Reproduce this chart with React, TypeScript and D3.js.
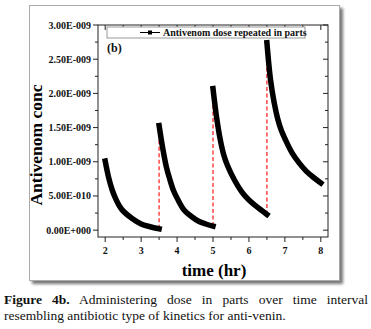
import React, { useLayoutEffect, useRef } from "react";
import * as d3 from "d3";

// ---- data (concentration in units of 1e-9) ----
const seg1T = [2.0, 2.1, 2.2, 2.3, 2.4, 2.5, 2.75, 3.0, 3.25, 3.5];
const seg1V = [1.01, 0.76, 0.58, 0.45, 0.35, 0.28, 0.17, 0.09, 0.05, 0.02];
const seg2T = [3.5, 3.6, 3.7, 3.8, 3.9, 4.0, 4.2, 4.4, 4.6, 4.8, 5.0];
const seg2V = [1.53, 1.2, 0.93, 0.74, 0.58, 0.47, 0.29, 0.2, 0.13, 0.09, 0.06];
const seg3T = [5.0, 5.1, 5.2, 5.3, 5.4, 5.6, 5.8, 6.0, 6.2, 6.5];
const seg3V = [2.07, 1.65, 1.33, 1.1, 0.95, 0.73, 0.56, 0.44, 0.35, 0.23];
const seg4T = [6.5, 6.6, 6.7, 6.8, 6.9, 7.0, 7.2, 7.4, 7.6, 7.8, 8.0];
const seg4V = [2.74, 2.2, 1.87, 1.63, 1.46, 1.34, 1.13, 0.98, 0.86, 0.77, 0.69];

const yTickValues = [0, 0.5, 1.0, 1.5, 2.0, 2.5, 3.0];
const yTickLabels = ["0.00E+000", "5.00E-010", "1.00E-009", "1.50E-009", "2.00E-009", "2.50E-009", "3.00E-009"];
const xTickValues = [2, 3, 4, 5, 6, 7, 8];
const legendLabel = "Antivenom dose repeated in parts";
const xTitle = "time (hr)";
const yTitle = "Antivenom conc";
const panelLabel = "(b)";
const captionBold = "Figure 4b.";
const captionRest1 = " Administering dose in parts over time interval";
const captionLine2 = "resembling antibiotic type of kinetics for anti-venin.";

const W = 371, H = 329;
const plot = { left: 98, right: 328, top: 25, bottom: 237 };
const serif = '"Liberation Serif", "Times New Roman", "DejaVu Serif", serif';

export default function App() {
  const line1Ref = useRef<SVGTextElement>(null);

  useLayoutEffect(() => {
    const el = line1Ref.current;
    if (!el) return;
    el.setAttribute("word-spacing", "0");
    const len = el.getComputedTextLength();
    const target = 364;
    const spaces = (captionBold + captionRest1).split(" ").length - 1;
    const extra = (target - len) / spaces;
    el.setAttribute("word-spacing", String(extra));
  }, []);

  const x = d3.scaleLinear().domain([1.8, 8.2]).range([plot.left, plot.right]);
  const y = d3.scaleLinear().domain([-0.1, 3.0]).range([plot.bottom, plot.top]);

  const segs = [
    [seg1T, seg1V],
    [seg2T, seg2V],
    [seg3T, seg3V],
    [seg4T, seg4V],
  ].map(([t, v]) => t.map((tt, i) => [tt, v[i]] as [number, number]));

  const line = d3
    .line<[number, number]>()
    .x((d) => x(d[0]))
    .y((d) => y(d[1]))
    .curve(d3.curveCatmullRom.alpha(0.5));

  const jumps = segs.slice(0, -1).map((s, i) => [s[s.length - 1], segs[i + 1][0]]);

  const yMinor = d3.range(0, 3.0001, 0.25);
  const xMinor = d3.range(2, 8.0001, 0.5);

  const axisColor = "#222";
  const ff = { fontFamily: serif };

  return (
    <svg width={W} height={H} style={{ position: "absolute", left: 0, top: 0, background: "#fff", fontFamily: serif }}>
      <defs>
        <filter id="shadow" x="-10%" y="-10%" width="120%" height="120%">
          <feGaussianBlur stdDeviation="1.5" />
        </filter>
      </defs>
      {/* frame with shadow */}
      <rect x={32} y={8} width={311} height={276} fill="#777" filter="url(#shadow)" />
      <rect x={29.5} y={5.5} width={310} height={275} fill="#fff" stroke="#aaa" strokeWidth={1} />

      {/* red dashed connectors */}
      {jumps.map((j, i) => (
        <line key={i} x1={x(j[0][0])} y1={y(j[0][1])} x2={x(j[1][0])} y2={y(j[1][1])}
          stroke="#ff2a2a" strokeWidth={1.3} strokeDasharray="4,2.5" />
      ))}

      {/* black curves */}
      {segs.map((s, i) => (
        <path key={i} d={line(s) || ""} fill="none" stroke="#000" strokeWidth={5.5}
          strokeLinecap="square" strokeLinejoin="round" />
      ))}

      {/* plot box */}
      <rect x={plot.left} y={plot.top} width={plot.right - plot.left} height={plot.bottom - plot.top}
        fill="none" stroke={axisColor} strokeWidth={1} />

      {/* y ticks */}
      {yMinor.map((v, i) => {
        const major = Math.abs(v * 2 - Math.round(v * 2)) < 1e-6;
        const len = major ? 5 : 3;
        return (
          <g key={"y" + i}>
            <line x1={plot.left - len} x2={plot.left} y1={y(v)} y2={y(v)} stroke={axisColor} />
            <line x1={plot.right - len} x2={plot.right} y1={y(v)} y2={y(v)} stroke={axisColor} />
          </g>
        );
      })}
      {yTickValues.map((v, i) => (
        <text key={"yl" + i} x={plot.left - 7} y={y(v)} dy="0.35em" textAnchor="end" style={ff}
          fontSize={10} fontWeight="bold" fill="#111">{yTickLabels[i]}</text>
      ))}

      {/* x ticks */}
      {xMinor.map((v, i) => {
        const major = Math.abs(v - Math.round(v)) < 1e-6;
        const len = major ? 5 : 3;
        return (
          <g key={"x" + i}>
            <line x1={x(v)} x2={x(v)} y1={plot.bottom} y2={plot.bottom + len} stroke={axisColor} />
            <line x1={x(v)} x2={x(v)} y1={plot.top} y2={plot.top + len} stroke={axisColor} />
          </g>
        );
      })}
      {xTickValues.map((v, i) => (
        <text key={"xl" + i} x={x(v)} y={254} textAnchor="middle" fontSize={10} fontWeight="bold" style={ff}
          fill="#111">{String(v)}</text>
      ))}

      {/* axis titles */}
      <text x={214} y={276} textAnchor="middle" fontSize={17} fontWeight="bold" fill="#000" style={ff}>{xTitle}</text>
      <text transform={`translate(42,${(plot.top + plot.bottom) / 2 + 14}) rotate(-90)`} textAnchor="middle"
        fontSize={17.5} fontWeight="bold" fill="#000" style={ff}>{yTitle}</text>

      {/* legend */}
      <rect x={107} y={27} width={198} height={11} fill="#fff" stroke="#999" strokeWidth={1} />
      <line x1={140} x2={160} y1={32.5} y2={32.5} stroke="#000" strokeWidth={1} />
      <rect x={148} y={30.5} width={4} height={4} fill="#000" />
      <text x={163} y={36} fontSize={10} fontWeight="bold" fill="#111" style={ff}>{legendLabel}</text>

      <text x={107} y={52} fontSize={12} fontWeight="bold" fill="#111" style={ff}>{panelLabel}</text>

      {/* caption */}
      <text ref={line1Ref} x={4} y={304} fontSize={13.5} fill="#111" style={ff}>
        <tspan fontWeight="bold">{captionBold}</tspan>
        <tspan>{captionRest1}</tspan>
      </text>
      <text x={4} y={320} fontSize={13.5} fill="#111" style={ff}>{captionLine2}</text>
    </svg>
  );
}
